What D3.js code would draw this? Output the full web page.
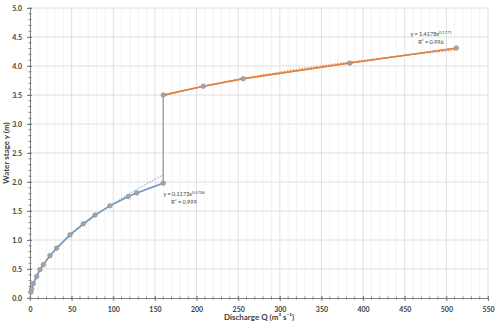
<!DOCTYPE html>
<html>
<head>
<meta charset="utf-8">
<script src="https://cdn.jsdelivr.net/npm/d3@7"></script>
<style>
  body { margin: 0; background: #fff; }
  text { font-family: Lato, "Open Sans", sans-serif; fill: #404040; }
  .tick text { font-size: 7px; font-weight: bold; }
</style>
</head>
<body>
<div id="chart"></div>
<script>
// Data
const lowQ = [1, 2, 4, 8, 12, 16, 24, 32, 48, 64, 78, 96, 118, 128, 160];
const lowY = [0.10, 0.155, 0.25, 0.37, 0.49, 0.575, 0.73, 0.86, 1.09, 1.28, 1.43, 1.59, 1.75, 1.81, 1.98];
const highQ = [160, 208, 256, 384, 512];
const highY = [3.5, 3.65, 3.78, 4.05, 4.31];

// Power trendlines y = a * x^b (as printed on the chart)
const lowFit = {a: 0.1173, b: 0.5706, r2: "0.999"};
const highFit = {a: 1.4178, b: 0.1771, r2: "0.996"};

const xTicks = [0, 50, 100, 150, 200, 250, 300, 350, 400, 450, 500, 550];
const yTicks = [0, 0.5, 1.0, 1.5, 2.0, 2.5, 3.0, 3.5, 4.0, 4.5, 5.0];

const W = 500, H = 329;
const MARGIN = {LEFT: 30, RIGHT: 12, TOP: 8, BOTTOM: 31};

const svg = d3.select("#chart").append("svg")
  .attr("width", W).attr("height", H);

const x = d3.scaleLinear().domain([0, 550]).range([MARGIN.LEFT, W - MARGIN.RIGHT]);
const y = d3.scaleLinear().domain([0, 5]).range([H - MARGIN.BOTTOM, MARGIN.TOP]);

// minor vertical grid
svg.append("g").selectAll("line")
  .data(d3.range(0, 551, 10).filter(d => d % 50 !== 0))
  .enter().append("line")
  .attr("x1", d => x(d)).attr("x2", d => x(d))
  .attr("y1", y(0)).attr("y2", y(5))
  .attr("stroke", "#efefef").attr("stroke-width", 0.8);

// major grid
svg.append("g").selectAll("line")
  .data(xTicks.slice(1))
  .enter().append("line")
  .attr("x1", d => x(d)).attr("x2", d => x(d))
  .attr("y1", y(0)).attr("y2", y(5))
  .attr("stroke", "#dcdcdc").attr("stroke-width", 0.9);
svg.append("g").selectAll("line")
  .data(yTicks.slice(1))
  .enter().append("line")
  .attr("x1", x(0)).attr("x2", x(550))
  .attr("y1", d => y(d)).attr("y2", d => y(d))
  .attr("stroke", "#dcdcdc").attr("stroke-width", 0.9);

// axes
const xAxis = svg.append("g")
  .attr("transform", "translate(0," + y(0) + ")")
  .call(d3.axisBottom(x).tickValues(xTicks).tickSize(3).tickPadding(6).tickFormat(d3.format("d")));
xAxis.select(".domain").attr("stroke", "#7f7f7f");
xAxis.selectAll(".tick line").attr("stroke", "#7f7f7f").attr("y1", -2);
xAxis.append("g").selectAll("line")
  .data(d3.range(0, 551, 10))
  .enter().append("line")
  .attr("x1", d => x(d)).attr("x2", d => x(d))
  .attr("y1", -1.5).attr("y2", 1.5)
  .attr("stroke", "#7f7f7f");

const yAxis = svg.append("g")
  .attr("transform", "translate(" + x(0) + ",0)")
  .call(d3.axisLeft(y).tickValues(yTicks).tickSize(3).tickPadding(5).tickFormat(d3.format(".1f")));
yAxis.select(".domain").attr("stroke", "#7f7f7f");
yAxis.selectAll(".tick line").attr("stroke", "#7f7f7f").attr("x1", 2);
yAxis.append("g").selectAll("line")
  .data(d3.range(0, 51, 1).map(d => d / 10))
  .enter().append("line")
  .attr("x1", -1.5).attr("x2", 1.5)
  .attr("y1", d => y(d)).attr("y2", d => y(d))
  .attr("stroke", "#7f7f7f");
svg.selectAll(".tick text").attr("fill", "#404040");

// axis titles
svg.append("text")
  .attr("x", (x(0) + x(550)) / 2).attr("y", 320)
  .attr("text-anchor", "middle")
  .attr("font-size", 8).attr("font-weight", "bold")
  .text("Discharge Q (m³ s⁻¹)");
svg.append("text")
  .attr("transform", "translate(9," + (y(0) + y(5)) / 2 + ") rotate(-90)")
  .attr("text-anchor", "middle")
  .attr("font-size", 8).attr("font-weight", "bold")
  .text("Water stage y (m)");

// series
const lowPts = lowQ.map((q, i) => [q, lowY[i]]);
const highPts = highQ.map((q, i) => [q, highY[i]]);
const line = d3.line().x(d => x(d[0])).y(d => y(d[1]));

// gray connecting line over the whole record
svg.append("path")
  .attr("d", line(lowPts.concat(highPts)))
  .attr("fill", "none").attr("stroke", "#a5a5a5").attr("stroke-width", 1.5);

svg.append("path")
  .attr("d", line(lowPts))
  .attr("fill", "none").attr("stroke", "#6a9bd0").attr("stroke-width", 1.3);
svg.append("path")
  .attr("d", line(highPts))
  .attr("fill", "none").attr("stroke", "#ed7d31").attr("stroke-width", 1.3);

// trendlines
function fitPts(fit, q0, q1) {
  return d3.range(0, 101).map(i => {
    const q = q0 + (q1 - q0) * i / 100;
    return [q, fit.a * Math.pow(q, fit.b)];
  });
}
svg.append("path")
  .attr("d", line(fitPts(lowFit, d3.min(lowQ), d3.max(lowQ))))
  .attr("fill", "none").attr("stroke", "#5b9bd5").attr("stroke-width", 1)
  .attr("stroke-dasharray", "1.5,1.5");
svg.append("path")
  .attr("d", line(fitPts(highFit, d3.min(highQ), d3.max(highQ))))
  .attr("fill", "none").attr("stroke", "#ed7d31").attr("stroke-width", 1.2)
  .attr("stroke-dasharray", "1.5,1.5");

// markers
svg.append("g").selectAll("circle")
  .data(lowPts.concat(highPts))
  .enter().append("circle")
  .attr("cx", d => x(d[0])).attr("cy", d => y(d[1]))
  .attr("r", 2.3)
  .attr("fill", "#a5a5a5").attr("stroke", "#8c8c8c").attr("stroke-width", 0.6);

// equation labels
function eqLabel(fit, cx, cy) {
  const t = svg.append("text").attr("x", cx).attr("y", cy)
    .attr("font-size", 5.5).attr("text-anchor", "middle");
  t.append("tspan").text("y = " + fit.a.toFixed(4) + "x");
  t.append("tspan").attr("font-size", 4).attr("dy", -2.5).text(fit.b.toFixed(4));
  svg.append("text").attr("x", cx).attr("y", cy + 8)
    .attr("font-size", 5.5).attr("text-anchor", "middle")
    .text("R² = " + fit.r2);
}
eqLabel(lowFit, 184, 196);
eqLabel(highFit, 431, 36);
</script>
</body>
</html>
